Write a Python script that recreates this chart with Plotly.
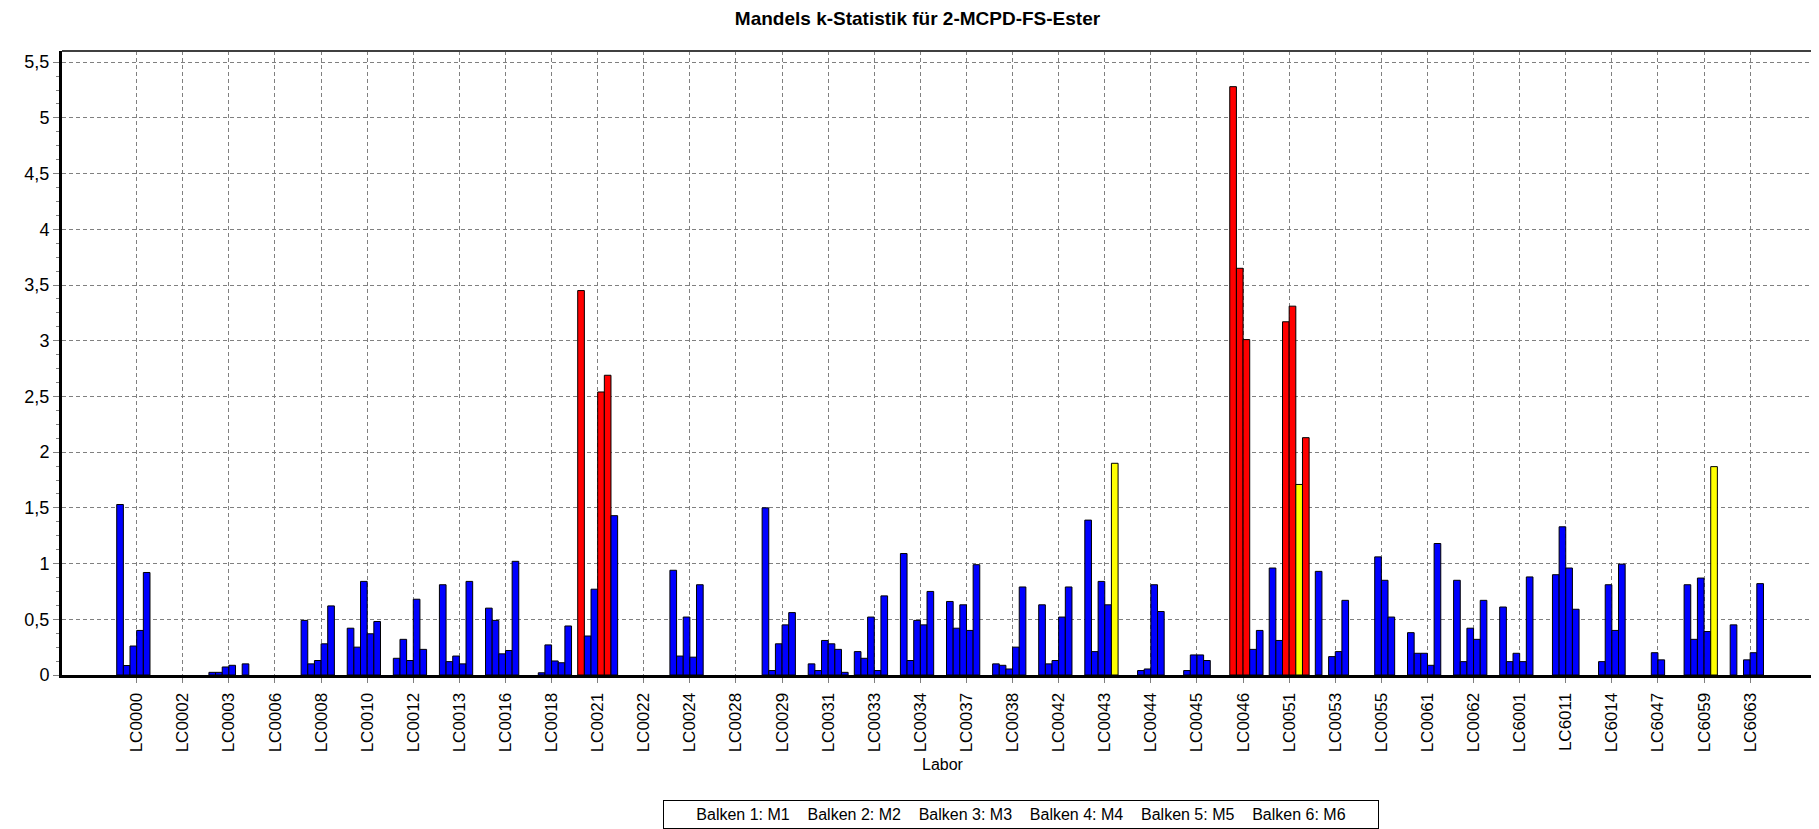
import plotly.graph_objects as go

# Labore (Kategorien)
labore = ["LC0000", "LC0002", "LC0003", "LC0006", "LC0008", "LC0010", "LC0012", "LC0013",
          "LC0016", "LC0018", "LC0021", "LC0022", "LC0024", "LC0028", "LC0029", "LC0031",
          "LC0033", "LC0034", "LC0037", "LC0038", "LC0042", "LC0043", "LC0044", "LC0045",
          "LC0046", "LC0051", "LC0053", "LC0055", "LC0061", "LC0062", "LC6001", "LC6011",
          "LC6014", "LC6047", "LC6059", "LC6063"]

# k-Werte je Balken (M1..M6)
M1 = [1.53, 0, 0.024, 0, 0.49, 0.42, 0.15, 0.81, 0.60, 0, 3.45, 0, 0.94, 0, 1.50, 0.10, 0.21, 1.09,
      0.66, 0.10, 0.63, 1.39, 0, 0, 0, 0.96, 0.93, 0, 0.38, 0.85, 0.61, 0, 0, 0, 0.81, 0.45]
M2 = [0.085, 0, 0.024, 0, 0.10, 0.25, 0.32, 0.12, 0.49, 0.02, 0.35, 0, 0.17, 0, 0.04, 0.04, 0.15, 0.13,
      0.42, 0.087, 0.10, 0.21, 0.04, 0.04, 5.28, 0.31, 0, 0, 0.195, 0.12, 0.12, 0.90, 0.12, 0, 0.32, 0]
M3 = [0.26, 0, 0.072, 0, 0.13, 0.84, 0.13, 0.17, 0.19, 0.27, 0.77, 0, 0.52, 0, 0.28, 0.31, 0.52, 0.49,
      0.63, 0.054, 0.13, 0.84, 0.054, 0.18, 3.65, 3.17, 0.165, 1.06, 0.195, 0.42, 0.195, 1.33, 0.81, 0.20,
      0.87, 0.136]
M4 = [0.40, 0, 0.087, 0, 0.28, 0.37, 0.68, 0.10, 0.22, 0.126, 2.54, 0, 0.16, 0, 0.45, 0.28, 0.04, 0.45,
      0.40, 0.25, 0.52, 0.63, 0.81, 0.18, 3.01, 3.31, 0.21, 0.85, 0.087, 0.32, 0.12, 0.96, 0.40, 0.136,
      0.39, 0.20]
M5 = [0.92, 0, 0, 0, 0.62, 0.48, 0.23, 0.84, 1.02, 0.11, 2.69, 0, 0.81, 0, 0.56, 0.23, 0.71, 0.75,
      0.99, 0.79, 0.79, 1.90, 0.57, 0.13, 0.23, 1.71, 0.67, 0.52, 1.18, 0.67, 0.88, 0.59, 0.995, 0,
      1.87, 0.82]
M6 = [0, 0, 0.10, 0, 0, 0, 0, 0, 0, 0.44, 1.43, 0, 0, 0, 0, 0.024, 0, 0, 0, 0, 0, 0, 0, 0,
      0.40, 2.13, 0, 0, 0, 0, 0, 0, 0, 0, 0, 0]

reihen = [M1, M2, M3, M4, M5, M6]

# Grenzwerte fuer die Einfaerbung (gelb / rot)
k_gelb = 1.6
k_rot = 2.0


def farbe(v):
    if v > k_rot:
        return "#FF0000"
    if v > k_gelb:
        return "#FFFF00"
    return "#0000FF"


fig = go.Figure()
for i, werte in enumerate(reihen):
    # Nullwerte nicht zeichnen (kein Strich auf der Achse)
    fig.add_trace(go.Bar(x=labore, y=[v if v else None for v in werte], name="M%d" % (i + 1),
                         marker=dict(color=[farbe(v) for v in werte],
                                     line=dict(color="black", width=1)),
                         showlegend=False))

grid = dict(showgrid=True, gridcolor="#808080", griddash="4px,3px", gridwidth=1)

fig.update_layout(
    width=1819, height=829,
    margin=dict(l=54, r=4, t=43, b=162),
    plot_bgcolor="white", paper_bgcolor="white",
    barmode="group", bargap=0.134, bargroupgap=0,
    separators=",.",
    font=dict(family="Liberation Sans, Arial, sans-serif", color="black"),
    title=dict(text="<b>Mandels k-Statistik für 2-MCPD-FS-Ester</b>",
               x=0.5, xref="container", xanchor="center",
               y=1 - 10 / 829, yanchor="middle", font=dict(size=19)),
    xaxis=dict(type="category", range=[-1.62, 36.58], tickangle=-90,
               ticks="outside", ticklen=5, tickcolor="#808080", ticklabelstandoff=3,
               tickfont=dict(size=17), showline=True, linecolor="black",
               linewidth=3, zeroline=False, **grid),
    yaxis=dict(range=[0, 5.6], tick0=0, dtick=0.5, ticks="outside", ticklen=6,
               tickcolor="#808080", tickfont=dict(size=18), showline=True,
               linecolor="black", linewidth=3, zeroline=False,
               minor=dict(dtick=0.125, ticks="outside", ticklen=3,
                          tickcolor="#808080", showgrid=False),
               **grid),
)

# Rahmen oben und rechts
fig.add_shape(type="line", xref="paper", yref="paper", x0=0, x1=1, y0=1, y1=1,
              line=dict(color="#404040", width=2))
fig.add_shape(type="line", xref="paper", yref="paper", x0=1, x1=1, y0=0, y1=1,
              line=dict(color="#404040", width=2))

fig.add_annotation(text="Labor", xref="paper", yref="paper", x=0.5, y=-0.144,
                   showarrow=False, font=dict(size=16), yanchor="middle")

nb = "\u00a0" * 4
legende = nb.join("Balken %d: M%d" % (i, i) for i in range(1, 7))
fig.add_annotation(text=legende, xref="paper", yref="paper", x=0.5447, y=-0.224,
                   showarrow=False, font=dict(size=16), xanchor="center", yanchor="middle",
                   bordercolor="black", borderwidth=1, borderpad=4, width=706, height=19,
                   bgcolor="white")

fig.write_html("out.html")
